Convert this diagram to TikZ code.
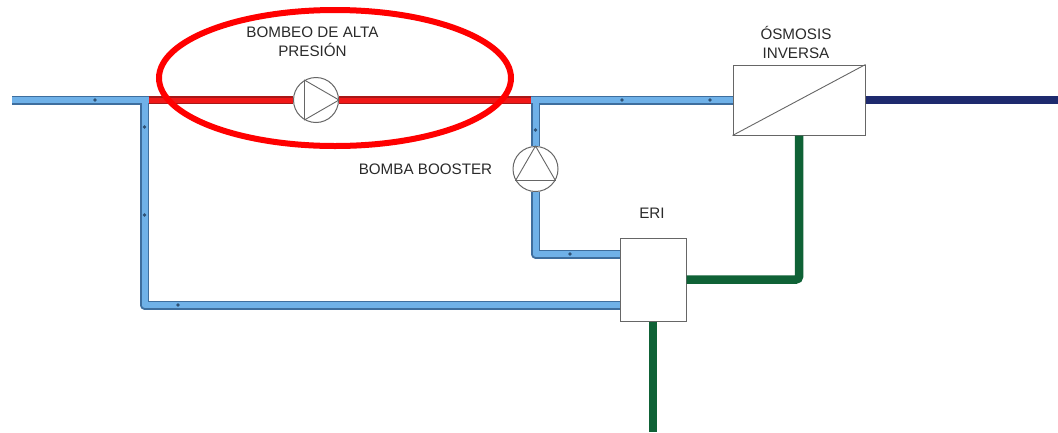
\documentclass[tikz,border=0pt]{standalone}
\usepackage{fontspec}
\setmainfont{Liberation Sans}
\usetikzlibrary{calc,shapes.geometric}
\definecolor{pipeblue}{HTML}{6FB1E8}
\definecolor{pipeedge}{HTML}{3E6E9E}
\definecolor{redin}{HTML}{F01818}
\definecolor{rededge}{HTML}{A81818}
\definecolor{navy}{HTML}{1E2A6E}
\definecolor{pipegreen}{HTML}{0F6236}
\definecolor{label}{HTML}{2A2A2A}
\definecolor{hair}{HTML}{666666}
\tikzset{
  blueedge/.style={line width=9pt,draw=pipeedge,line join=round},
  bluecore/.style={line width=6pt,draw=pipeblue,line join=round},
  redpipe/.style={draw=rededge,double=redin,double distance=5pt,line width=1.8pt},
  navypipe/.style={line width=8.5pt,draw=navy},
  greenpipe/.style={line width=8.5pt,draw=pipegreen,rounded corners=3pt},
  pump/.style={circle,draw=hair,line width=1pt,fill=white,minimum size=45pt,inner sep=0pt},
  tri/.style={draw=hair,line width=.9pt,line join=round},
  unitbox/.style={rectangle,draw=hair,line width=1pt,fill=white,inner sep=0pt},
  lbl/.style={text=label,font=\fontsize{15.2pt}{19.5pt}\selectfont,align=center,inner sep=0pt},
  flowmark/.style={fill=pipeedge!75!black,draw=none},
  ring/.style={draw=red,line width=6pt,ellipse,inner sep=0pt,minimum width=352pt,minimum height=136pt}
}
\begin{document}
\begin{tikzpicture}[x=1pt,y=-1pt]
\useasboundingbox (0,0) rectangle (1058,432);
\fill[white] (0,0) rectangle (1058,432);
\coordinate (in) at (12,100);
\coordinate (j1) at (144.5,100);
\coordinate (j1r) at (149,100);
\coordinate (j2) at (535.5,100);
\coordinate (j2r) at (531,100);
\coordinate (out) at (1058,100);
\coordinate (drain) at (653,432);
\node[pump] (hp) at (316,100) {};
\node[pump] (bp) at (535.5,169) {};
\node[unitbox,minimum width=132pt,minimum height=70pt] (ro) at (799,100) {};
\node[unitbox,minimum width=66pt,minimum height=83pt] (eri) at (653,279.5) {};
\coordinate (eria) at (eri.west |- 0,254);
\coordinate (erib) at (eri.west |- 0,305);
\foreach \s in {blueedge,bluecore}{
  \draw[\s] (in) -- (j1r);
  \draw[\s] (j1) |- (erib);
  \draw[\s] (j2r) -- (ro.west);
  \draw[\s] (j2) -- (bp.north);
  \draw[\s] (bp.south) |- (eria);
}
\draw[redpipe] (j1r) -- (hp.west);
\draw[redpipe] (hp.east) -- (j2r);
\draw[navypipe] (ro.east) -- (out);
\draw[greenpipe] (ro.south) |- (eri.east);
\draw[greenpipe] (eri.south) -- (drain);
\foreach \p in {(95,100),(144.5,127),(144.5,215),(178,305),(622,100),(710,100),(535.5,130),(570,254)}
  \fill[flowmark] \p circle (1.8pt);
\draw[tri] (hp.east) -- (hp.120) -- (hp.240) -- cycle;
\draw[tri] (bp.north) -- (bp.210) -- (bp.330) -- cycle;
\draw[draw=hair,line width=.9pt] (ro.south west) -- (ro.north east);
\node[lbl] (lblhp) at (312.5,42) {BOMBEO DE ALTA\\PRESIÓN};
\node[lbl] (lblbp) at (425.5,169.5) {BOMBA BOOSTER};
\node[lbl] (lblro) at (796,42.5) {ÓSMOSIS\\INVERSA};
\node[lbl] (lbleri) at (652,213) {ERI};
\node[ring] (hl) at (335,78) {};
\end{tikzpicture}
\end{document}
